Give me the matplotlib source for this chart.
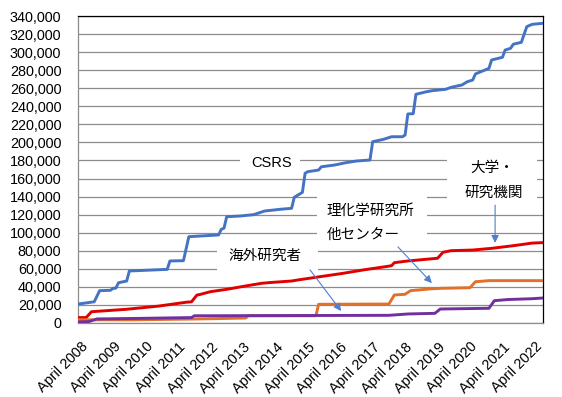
import matplotlib
matplotlib.use("Agg")
import matplotlib.pyplot as plt
import matplotlib.transforms as mtransforms
from matplotlib.patches import Rectangle
from matplotlib.ticker import FuncFormatter, MultipleLocator

plt.rcParams['font.family'] = ['Liberation Sans', 'Noto Sans CJK JP', 'DejaVu Sans']

# month offsets from April 2008 and cumulative values
csrs_month = [0, 6, 8, 12, 13, 14, 15, 18, 19, 33, 34, 39, 41, 52, 53, 54, 55, 60, 65, 69, 75, 79, 80,
              83, 84, 85, 89, 90, 95, 99, 103, 108, 109, 113, 116, 120, 121, 122, 124, 125, 129, 131,
              136, 138, 142, 144, 146, 147, 149, 152, 153, 157, 158, 160, 161, 164, 166, 168, 172]
csrs_value = [21000, 23500, 35800, 36200, 38400, 38600, 44600, 46500, 57600, 59400, 68700, 69000,
              95600, 97500, 103800, 105000, 117700, 118500, 120000, 124000, 126000, 127000, 139200,
              144700, 165800, 167600, 169400, 173000, 175000, 177500, 179400, 180500, 200800,
              203400, 206300, 206300, 208200, 231500, 231800, 253300, 256200, 257300, 258800,
              261000, 263600, 267200, 269100, 275800, 278300, 282000, 291300, 294300, 302300,
              304200, 308700, 310900, 328200, 330800, 331900]

univ_month = [0, 3, 5, 18, 30, 40, 42, 44, 45, 49, 55, 62, 68, 71, 79, 81, 90, 98, 106, 114, 116, 117,
              122, 133, 135, 138, 146, 153, 161, 168, 172]
univ_value = [6000, 6000, 12500, 15200, 18800, 23000, 23500, 31000, 31500, 34700, 37300, 41000,
              44000, 44800, 46500, 47500, 51500, 55000, 59000, 62500, 63500, 66800, 68700, 71700,
              78300, 80100, 80800, 82700, 85600, 88500, 89000]

riken_month = [0, 20, 45, 62, 63, 88, 89, 115, 117, 121, 123, 130, 134, 145, 147, 152, 172]
riken_value = [3600, 3500, 4500, 5500, 8000, 8000, 20700, 21000, 31000, 31800, 35800, 37700, 38400,
               39100, 45700, 46900, 46900]

overseas_month = [0, 4, 7, 20, 42, 43, 115, 122, 132, 134, 152, 154, 159, 168, 172]
overseas_value = [1200, 1500, 4500, 5000, 6000, 8000, 8500, 10000, 10700, 15500, 16300, 24700,
                  26000, 26900, 27700]

tick_years = list(range(2008, 2023))
tick_labels = [f"April {y}" for y in tick_years]

fig = plt.figure(figsize=(5.62, 3.97), dpi=100)
ax = fig.add_axes([78 / 562, 74 / 397, 465 / 562, 307 / 397])

ax.plot(csrs_month, csrs_value, color='#4472C4', lw=2.1, zorder=3, solid_joinstyle='round')
ax.plot(univ_month, univ_value, color='#E00000', lw=2.1, zorder=3, solid_joinstyle='round')
ax.plot(riken_month, riken_value, color='#E0702A', lw=2.1, zorder=3, solid_joinstyle='round')
ax.plot(overseas_month, overseas_value, color='#7030A0', lw=2.1, zorder=3, solid_joinstyle='round')

ax.set_xlim(0, 172)
ax.set_ylim(0, 340000)
ax.yaxis.set_major_locator(MultipleLocator(20000))
ax.yaxis.set_major_formatter(FuncFormatter(lambda v, p: f"{int(v):,}"))
ax.set_xticks([12 * i for i in range(len(tick_years))])
ax.set_xticklabels(tick_labels, rotation=45, ha='right', rotation_mode='anchor', fontsize=10.4)
ax.tick_params(axis='y', length=0, pad=12, labelsize=10.4)
ax.tick_params(axis='x', length=0, pad=12)
offset = mtransforms.ScaledTranslation(3 / 100, 0, fig.dpi_scale_trans)
for lab in ax.get_xticklabels():
    lab.set_transform(lab.get_transform() + offset)
ax.grid(axis='y', color='#8C8C8C', lw=0.9, zorder=0)
ax.set_axisbelow(True)
for s in ['left', 'bottom']:
    ax.spines[s].set_color('#8C8C8C')
    ax.spines[s].set_linewidth(0.9)
for s in ['top', 'right']:
    ax.spines[s].set_color('black')
    ax.spines[s].set_linewidth(0.9)

# white label boxes (axes fraction)
boxes = [(0.348, 0.482, 0.129, 0.082),
         (0.794, 0.384, 0.193, 0.179),
         (0.514, 0.254, 0.237, 0.169),
         (0.299, 0.147, 0.217, 0.123)]
for (bx, by, bw, bh) in boxes:
    ax.add_patch(Rectangle((bx, by), bw, bh, transform=ax.transAxes, facecolor='white',
                           edgecolor='none', zorder=1))

fs = 10.5
ax.text(0.417, 0.521, "CSRS", transform=ax.transAxes, ha='center', va='center', fontsize=fs, zorder=5)
ax.text(0.890, 0.505, "大学・", transform=ax.transAxes, ha='center', va='center', fontsize=fs, zorder=5)
ax.text(0.895, 0.423, "研究機関", transform=ax.transAxes, ha='center', va='center', fontsize=fs, zorder=5)
ax.text(0.535, 0.366, "理化学研究所", transform=ax.transAxes, ha='left', va='center', fontsize=fs, zorder=5)
ax.text(0.535, 0.287, "他センター", transform=ax.transAxes, ha='left', va='center', fontsize=fs, zorder=5)
ax.text(0.402, 0.218, "海外研究者", transform=ax.transAxes, ha='center', va='center', fontsize=fs, zorder=5)

arrow_kw = dict(arrowstyle='-|>', color='#4F7FCF', lw=0.8, mutation_scale=11, shrinkA=0, shrinkB=0)
for tail, head in [((0.897, 0.384), (0.897, 0.261)),
                   ((0.688, 0.248), (0.761, 0.130)),
                   ((0.499, 0.173), (0.566, 0.039))]:
    ax.annotate("", xy=head, xytext=tail, xycoords='axes fraction', textcoords='axes fraction',
                arrowprops=arrow_kw, zorder=4)

fig.savefig("out.png", dpi=100)
